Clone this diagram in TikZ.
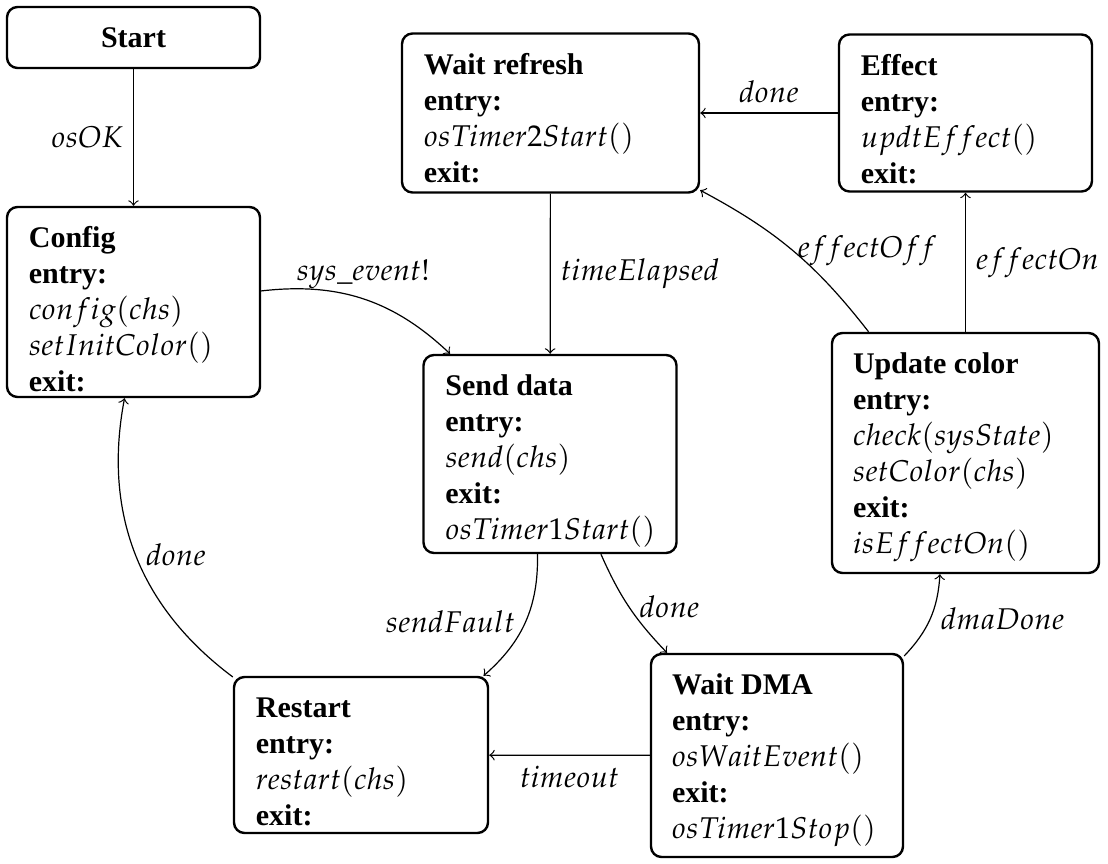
\documentclass[tikz,border=0pt]{standalone}
\usepackage{mathpazo}
\usepackage[no-math]{fontspec}
\setmainfont{Liberation Serif}
\tikzset{
  statebox/.style={draw, line width=0.8pt, rounded corners=3.5pt, inner sep=0pt},
  statetext/.style={anchor=north west, align=left, inner sep=0pt},
  trans/.style={->, >=to, line width=0.4pt},
}
\newcommand{\fl}{\rule{0pt}{7pt}}
\begin{document}
\begin{tikzpicture}[x=0.33333pt, y=0.33333pt]
\useasboundingbox (0,0) rectangle (1108,863);

% state boxes
\node[statebox, minimum width=84.33pt, minimum height=20.33pt] (start) at (133.5,863-37.5) {\textbf{Start}};
\node[statebox, minimum width=84.33pt, minimum height=63.33pt] (cfg) at (133.5,863-302) {};
\node[statebox, minimum width=99pt, minimum height=53pt] (wref) at (550.5,863-113) {};
\node[statebox, minimum width=84.33pt, minimum height=52.33pt] (eff) at (965.5,863-113) {};
\node[statebox, minimum width=84.33pt, minimum height=66pt] (send) at (550,863-454) {};
\node[statebox, minimum width=89pt, minimum height=80pt] (upd) at (965.5,863-453) {};
\node[statebox, minimum width=84.67pt, minimum height=52pt] (rst) at (361,863-755) {};
\node[statebox, minimum width=84pt, minimum height=67.67pt] (wdma) at (777,863-755.5) {};

% state texts
\node[statetext] (cfgt) at ([xshift=7.5pt,yshift=-6.67pt]cfg.north west)
  {\fl\textbf{Config}\\\textbf{entry:}\\$config(chs)$\\$setInitColor()$\\\textbf{exit:}};
\node[statetext] (wreft) at ([xshift=7.5pt,yshift=-6.67pt]wref.north west)
  {\fl\textbf{Wait refresh}\\\textbf{entry:}\\$osTimer2Start()$\\\textbf{exit:}};
\node[statetext] (efft) at ([xshift=7.5pt,yshift=-6.67pt]eff.north west)
  {\fl\textbf{Effect}\\\textbf{entry:}\\$updtEffect()$\\\textbf{exit:}};
\node[statetext] (sendt) at ([xshift=7.5pt,yshift=-6.67pt]send.north west)
  {\fl\textbf{Send data}\\\textbf{entry:}\\$send(chs)$\\\textbf{exit:}\\$osTimer1Start()$};
\node[statetext] (updt) at ([xshift=7.2pt,yshift=-6.67pt]upd.north west)
  {\fl\textbf{Update color}\\\textbf{entry:}\\$check(sysState)$\\$setColor(chs)$\\\textbf{exit:}\\$isEffectOn()$};
\node[statetext] (rstt) at ([xshift=7.5pt,yshift=-6.67pt]rst.north west)
  {\fl\textbf{Restart}\\\textbf{entry:}\\$restart(chs)$\\\textbf{exit:}};
\node[statetext] (wdmat) at ([xshift=7.2pt,yshift=-6.67pt]wdma.north west)
  {\fl\textbf{Wait DMA}\\\textbf{entry:}\\$osWaitEvent()$\\\textbf{exit:}\\$osTimer1Stop()$};

% transitions
\draw[trans] (start) -- node[left] {$osOK$} (cfg);
\draw[trans] (cfg) to[bend left=25] node[above] {$sys\_event!$} (send);
\draw[trans] (wref) -- node[right] {$timeElapsed$} (send);
\draw[trans] (eff) -- node[above] {$done$} (wref);
\draw[trans] (upd) -- node[right] {$effectOn$} (eff);
\draw[trans] (upd) to[bend right=12] node[right=-2pt] {$effectOff$} (wref);
\draw[trans] (send) to[bend left=25] node[left] {$sendFault$} (rst);
\draw[trans] (send) to[bend right=10] node[right] {$done$} (wdma);
\draw[trans] (wdma) to[bend right=20] node[right] {$dmaDone$} (upd);
\draw[trans] (wdma) -- node[below] {$timeout$} (rst);
\draw[trans] (rst) to[bend left=32] node[right] {$done$} (cfg);
\end{tikzpicture}
\end{document}
